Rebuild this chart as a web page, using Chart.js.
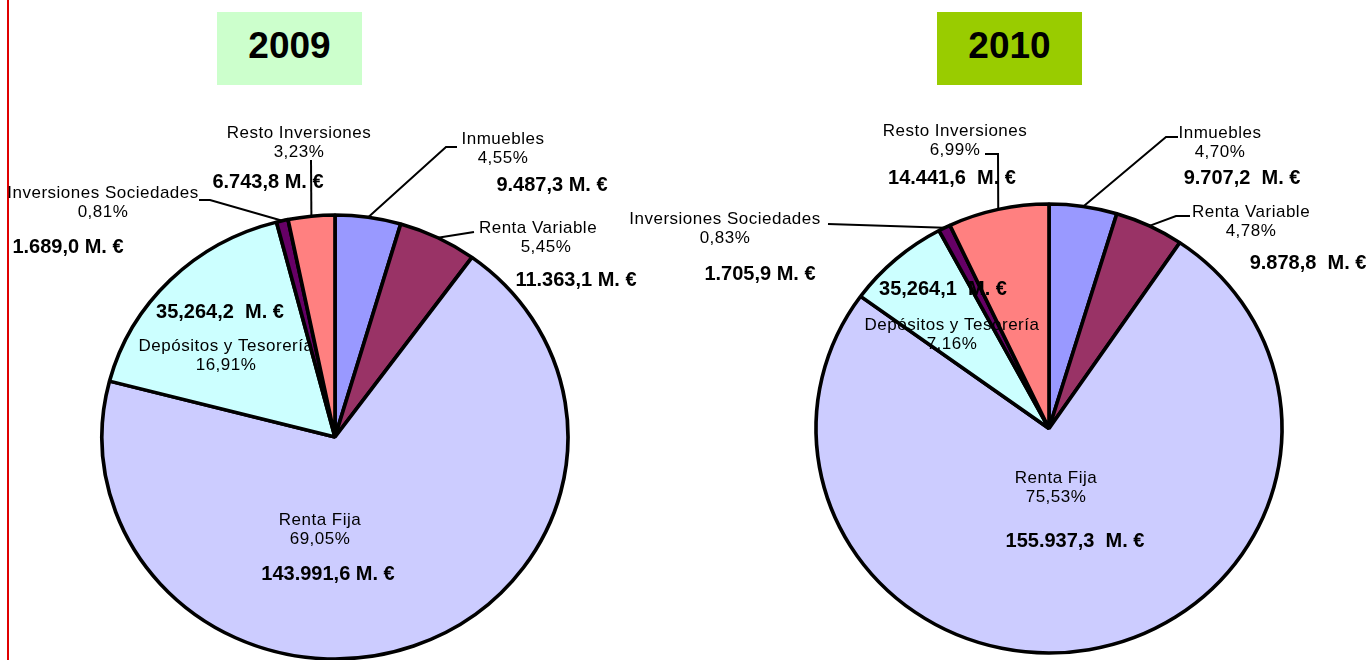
<!DOCTYPE html>
<html>
<head>
<meta charset="utf-8">
<script src="https://cdn.jsdelivr.net/npm/chart.js@4.4.1/dist/chart.umd.min.js"></script>
<style>
  html, body { margin: 0; padding: 0; background: #fff; overflow: hidden; }
  #wrap { position: relative; width: 1372px; height: 660px; }
  canvas { position: absolute; left: 0; top: 0; }
  .year { position: absolute; top: 12px; width: 145px; height: 73px;
          font: bold 37px Arial, "Liberation Sans", sans-serif; line-height: 67px;
          text-align: center; color: #000; }
  #redline { position: absolute; left: 7px; top: 0; width: 2px; height: 660px; background: #e00000; }
</style>
</head>
<body>
<div id="wrap">
  <div id="redline"></div>
  <div class="year" style="left:217px;background:#ccffcc">2009</div>
  <div class="year" style="left:937px;background:#99cc00">2010</div>
  <canvas id="pie2009" width="1372" height="660"></canvas>
  <canvas id="pie2010" width="1372" height="660"></canvas>
</div>
<script>
// Datos (orden horario desde las 12)
const categorias = ['Inmuebles', 'Renta Variable', 'Renta Fija', 'Depósitos y Tesorería', 'Inversiones Sociedades', 'Resto Inversiones'];
const pct2009 = [4.55, 5.45, 69.05, 16.91, 0.81, 3.23];
const pct2010 = [4.70, 4.78, 75.53, 7.16, 0.83, 6.99];
const importes2009 = ['9.487,3 M. €', '11.363,1 M. €', '143.991,6 M. €', '35,264,2  M. €', '1.689,0 M. €', '6.743,8 M. €'];
const importes2010 = ['9.707,2  M. €', '9.878,8  M. €', '155.937,3  M. €', '35,264,1  M. €', '1.705,9 M. €', '14.441,6  M. €'];
const colores = ['#9999ff', '#993366', '#ccccff', '#ccffff', '#660066', '#ff8080'];

// Posiciones de las etiquetas (movidas a mano en el original)
const pos2009 = {
  cx: 335, cy: 437, rx: 233, ry: 222,
  labels: [
    { name: [503, 139], amt: [552, 185], leader: [[446, 147], [457, 147]] },
    { name: [538, 228], pctX: 546, amt: [576, 280], leader: [[474, 232]] },
    { name: [320, 520], amt: [328, 574] },
    { name: [226, 346], amt: [220, 312] },
    { name: [103, 193], amt: [68, 247], leader: [[210, 200], [199, 200]] },
    { name: [299, 133], amt: [268, 182], leader: [[311, 160]] }
  ]
};
const pos2010 = {
  cx: 1049, cy: 428.5, rx: 233, ry: 224.5,
  labels: [
    { name: [1220, 133], amt: [1242, 178], leader: [[1166, 137], [1178, 137]] },
    { name: [1251, 212], amt: [1308, 263], leader: [[1176, 216], [1190, 216]] },
    { name: [1056, 478], amt: [1075, 541] },
    { name: [952, 325], amt: [943, 289] },
    { name: [725, 219], amt: [760, 274], leader: [[828, 224]] },
    { name: [955, 131], amt: [952, 178], leader: [[998, 154], [985, 154]] }
  ]
};

const FONT = 'Arial, "Liberation Sans", sans-serif';
const W = 1372, H = 660;

function fmtPct(v) {
  return v.toFixed(2).replace('.', ',') + '%';
}

// estira la tarta en horizontal (en el original es una elipse) y pinta las etiquetas
function piePlugin(L, pcts, importes) {
  return {
    id: 'elipse',
    beforeDatasetsDraw(chart) {
      const ctx = chart.ctx;
      const a = chart.getDatasetMeta(0).data[0];
      ctx.save();
      ctx.translate(a.x, a.y);
      ctx.scale(L.rx / L.ry, 1);
      ctx.translate(-a.x, -a.y);
    },
    afterDatasetsDraw(chart) {
      const ctx = chart.ctx;
      ctx.restore();
      const meta = chart.getDatasetMeta(0);
      const sx = L.rx / L.ry;

      ctx.save();
      ctx.strokeStyle = '#000';
      ctx.lineWidth = 2;
      meta.data.forEach((arc, i) => {
        const p = L.labels[i];
        if (!p.leader) return;
        const mid = (arc.startAngle + arc.endAngle) / 2;
        ctx.beginPath();
        ctx.moveTo(arc.x + sx * arc.outerRadius * Math.cos(mid), arc.y + arc.outerRadius * Math.sin(mid));
        p.leader.forEach(q => ctx.lineTo(q[0], q[1]));
        ctx.stroke();
      });

      ctx.fillStyle = '#000';
      ctx.textAlign = 'center';
      ctx.textBaseline = 'middle';
      categorias.forEach((c, i) => {
        const p = L.labels[i];
        ctx.font = '17px ' + FONT;
        if ('letterSpacing' in ctx) ctx.letterSpacing = '0.5px';
        ctx.fillText(c, p.name[0], p.name[1]);
        ctx.fillText(fmtPct(pcts[i]), p.pctX || p.name[0], p.name[1] + 19.5);
        if ('letterSpacing' in ctx) ctx.letterSpacing = '0px';
        ctx.font = 'bold 20px ' + FONT;
        ctx.fillText(importes[i], p.amt[0], p.amt[1]);
      });
      ctx.restore();
    }
  };
}

function makePie(id, L, pcts, importes) {
  new Chart(document.getElementById(id), {
    type: 'pie',
    data: {
      labels: categorias,
      datasets: [{
        data: pcts,
        backgroundColor: colores,
        borderColor: '#000',
        borderWidth: 3.5,
        clip: false
      }]
    },
    options: {
      responsive: false,
      animation: false,
      events: [],
      radius: L.ry,
      layout: { padding: { left: L.cx - 100, right: W - L.cx - 100, top: L.cy - 100, bottom: H - L.cy - 100 } },
      plugins: { legend: { display: false }, tooltip: { enabled: false } }
    },
    plugins: [piePlugin(L, pcts, importes)]
  });
}

makePie('pie2009', pos2009, pct2009, importes2009);
makePie('pie2010', pos2010, pct2010, importes2010);
</script>
</body>
</html>
